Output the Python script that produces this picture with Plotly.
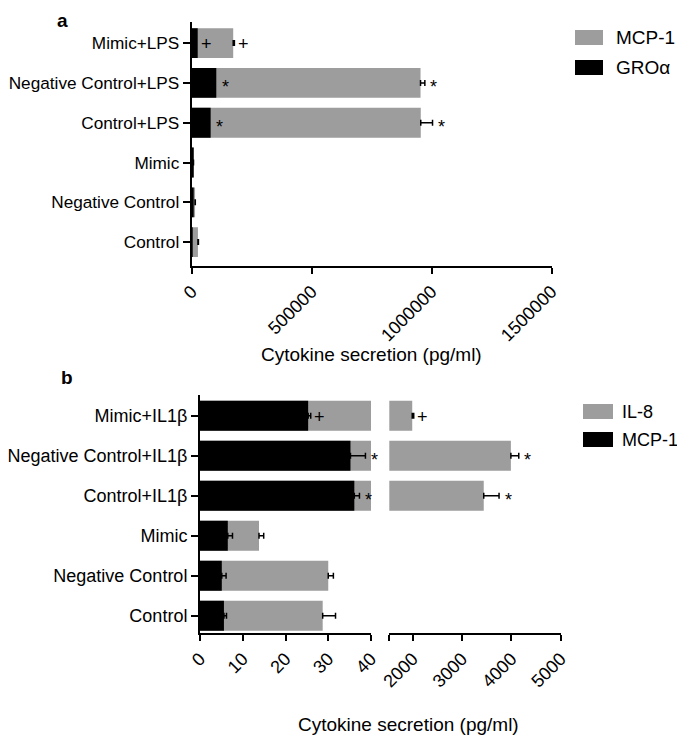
import plotly.graph_objects as go

# The page body has an 8px margin; lay out in screenshot pixels and compensate.
OFF = 8
W, H = 685 - OFF, 742 - OFF
def px(x): return (x - OFF) / W
def py(y): return 1 - (y - OFF) / H

FONT = "Liberation Sans, Arial, sans-serif"
GRAY = "#9d9d9d"

# ---------------- Panel a data (bottom -> top) ----------------
cats_a = ["Control", "Negative Control", "Mimic", "Control+LPS",
          "Negative Control+LPS", "Mimic+LPS"]
gro_a = [4000, 5000, 6000, 79000, 102500, 25000]          # GROα
gro_a_err = [0, 0, 0, 0, 0, 0]
mcp_a = [26000, 14000, 7000, 955000, 954000, 173000]       # MCP-1 (bar end)
mcp_a_err = [2000, 1000, 500, 49000, 18000, 5000]
sig_a_gro = ["", "", "", "*", "*", "+"]
sig_a_mcp = ["", "", "", "*", "*", "+"]
ticks_a = [0, 500000, 1000000, 1500000]

# ---------------- Panel b data (bottom -> top) ----------------
cats_b = ["Control", "Negative Control", "Mimic", "Control+IL1β",
          "Negative Control+IL1β", "Mimic+IL1β"]
mcp_b = [5.6, 5.1, 6.5, 36.1, 35.2, 25.3]                  # MCP-1
mcp_b_err = [0.6, 1.0, 1.1, 1.2, 3.5, 0.6]
il8_b = [28.7, 30.0, 13.8, 3440, 3990, 1990]               # IL-8 (bar end)
il8_b_err = [3.0, 1.2, 1.1, 310, 160, 30]
sig_b_mcp = ["", "", "", "*", "*", "+"]
sig_b_il8 = ["", "", "", "*", "*", "+"]
ticks_b1 = [0, 10, 20, 30, 40]
ticks_b2 = [2000, 3000, 4000, 5000]
break_start = 1525

fig = go.Figure()

def err(arr):
    return dict(type="data", symmetric=False, array=arr, arrayminus=[0]*len(arr),
                color="black", thickness=1.5, width=3)

# panel a
fig.add_trace(go.Bar(y=cats_a, x=mcp_a, orientation="h", name="MCP-1",
                     marker=dict(color=GRAY, line=dict(width=0)), opacity=1,
                     error_x=err(mcp_a_err), xaxis="x", yaxis="y", showlegend=False))
fig.add_trace(go.Bar(y=cats_a, x=gro_a, orientation="h", name="GROα",
                     marker=dict(color="black", line=dict(width=0)), opacity=1,
                     error_x=dict(visible=False), xaxis="x", yaxis="y", showlegend=False))

# panel b (left and right segments of the broken axis)
for xa in ["x2", "x3"]:
    fig.add_trace(go.Bar(y=cats_b, x=il8_b, orientation="h", name="IL-8",
                         marker=dict(color=GRAY, line=dict(width=0)), opacity=1,
                         error_x=err(il8_b_err), xaxis=xa, yaxis="y2", showlegend=False))
    fig.add_trace(go.Bar(y=cats_b, x=mcp_b, orientation="h", name="MCP-1",
                         marker=dict(color="black", line=dict(width=0)), opacity=1,
                         error_x=err(mcp_b_err), xaxis=xa, yaxis="y2", showlegend=False))

tickfont = dict(family=FONT, size=18, color="black")
common_x = dict(showline=True, linewidth=2, linecolor="black", ticks="outside",
                ticklen=6, tickwidth=2, tickcolor="black", showgrid=False,
                zeroline=False, tickangle=-45, tickfont=tickfont, fixedrange=True,
                automargin=False)
common_y = dict(showline=True, linewidth=2, linecolor="black", ticks="outside",
                ticklen=7, tickwidth=2, tickcolor="black", showgrid=False,
                zeroline=False, type="category", fixedrange=True,
                automargin=False)

fig.update_layout(
    width=W, height=H, margin=dict(l=0, r=0, t=0, b=0),
    paper_bgcolor="white", plot_bgcolor="rgba(0,0,0,0)",
    barmode="overlay", bargap=0.25, showlegend=False,
    font=dict(family=FONT, color="black"),
    xaxis=dict(domain=[px(191.7), px(551.5)], anchor="y", range=[0, 1500000],
               tickmode="array", tickvals=ticks_a, ticktext=[str(t) for t in ticks_a],
               **common_x),
    yaxis=dict(domain=[py(266), py(22)], anchor="x", categoryorder="array",
               categoryarray=cats_a, range=[-0.6, 5.53],
               tickfont=dict(family=FONT, size=17.2, color="black"), **common_y),
    xaxis2=dict(domain=[px(200), px(371)], anchor="y2", range=[0, 40],
                tickmode="array", tickvals=ticks_b1, ticktext=[str(t) for t in ticks_b1],
                **common_x),
    xaxis3=dict(domain=[px(389.3), px(560.7)], anchor="y2", range=[break_start, 5000],
                tickmode="array", tickvals=[break_start] + ticks_b2,
                ticktext=[""] + [str(t) for t in ticks_b2], **common_x),
    yaxis2=dict(domain=[py(633.3), py(395)], anchor="x2", categoryorder="array",
                categoryarray=cats_b, range=[-0.44, 5.52],
                tickfont=dict(family=FONT, size=18, color="black"), **common_y),
)

anns = []
def sig(labels, vals, errs, cats, xref, yref):
    for lab, v, e, c in zip(labels, vals, errs, cats):
        if not lab:
            continue
        anns.append(dict(x=v + e, y=c, xref=xref, yref=yref, text=lab,
                         showarrow=False, xanchor="center", yanchor="middle",
                         xshift=9, yshift=-4 if lab == "*" else -1,
                         font=dict(family=FONT, size=18, color="black")))

sig(sig_a_gro, gro_a, gro_a_err, cats_a, "x", "y")
sig(sig_a_mcp, mcp_a, mcp_a_err, cats_a, "x", "y")
sig(sig_b_mcp, mcp_b, mcp_b_err, cats_b, "x2", "y2")
sig(sig_b_il8, il8_b, il8_b_err, cats_b, "x3", "y2")

def text(x, y, s, size, anchor="center"):
    anns.append(dict(x=px(x), y=py(y), xref="paper", yref="paper", text=s,
                     showarrow=False, xanchor=anchor, yanchor="middle",
                     font=dict(family=FONT, size=size, color="black")))

# panel letters and axis titles
text(62, 21, "<b>a</b>", 19)
text(67, 377, "<b>b</b>", 19)
text(371, 354, "Cytokine secretion (pg/ml)", 19)
text(408, 724, "Cytokine secretion (pg/ml)", 19)

# legends
shapes = []
def legend(items, x0, x1, ytops, xt, size):
    for (name, col), yt in zip(items, ytops):
        shapes.append(dict(type="rect", xref="paper", yref="paper",
                           x0=px(x0), x1=px(x1), y0=py(yt + 15), y1=py(yt),
                           fillcolor=col, line=dict(width=0)))
        text(xt, yt + 7.5, name, size, anchor="left")

legend([("MCP-1", GRAY), ("GROα", "black")], 575, 603, [30, 60], 614, 19)
legend([("IL-8", GRAY), ("MCP-1", "black")], 583, 613, [404, 432], 620, 18)

fig.update_layout(annotations=anns, shapes=shapes)
fig.write_html("out.html")
